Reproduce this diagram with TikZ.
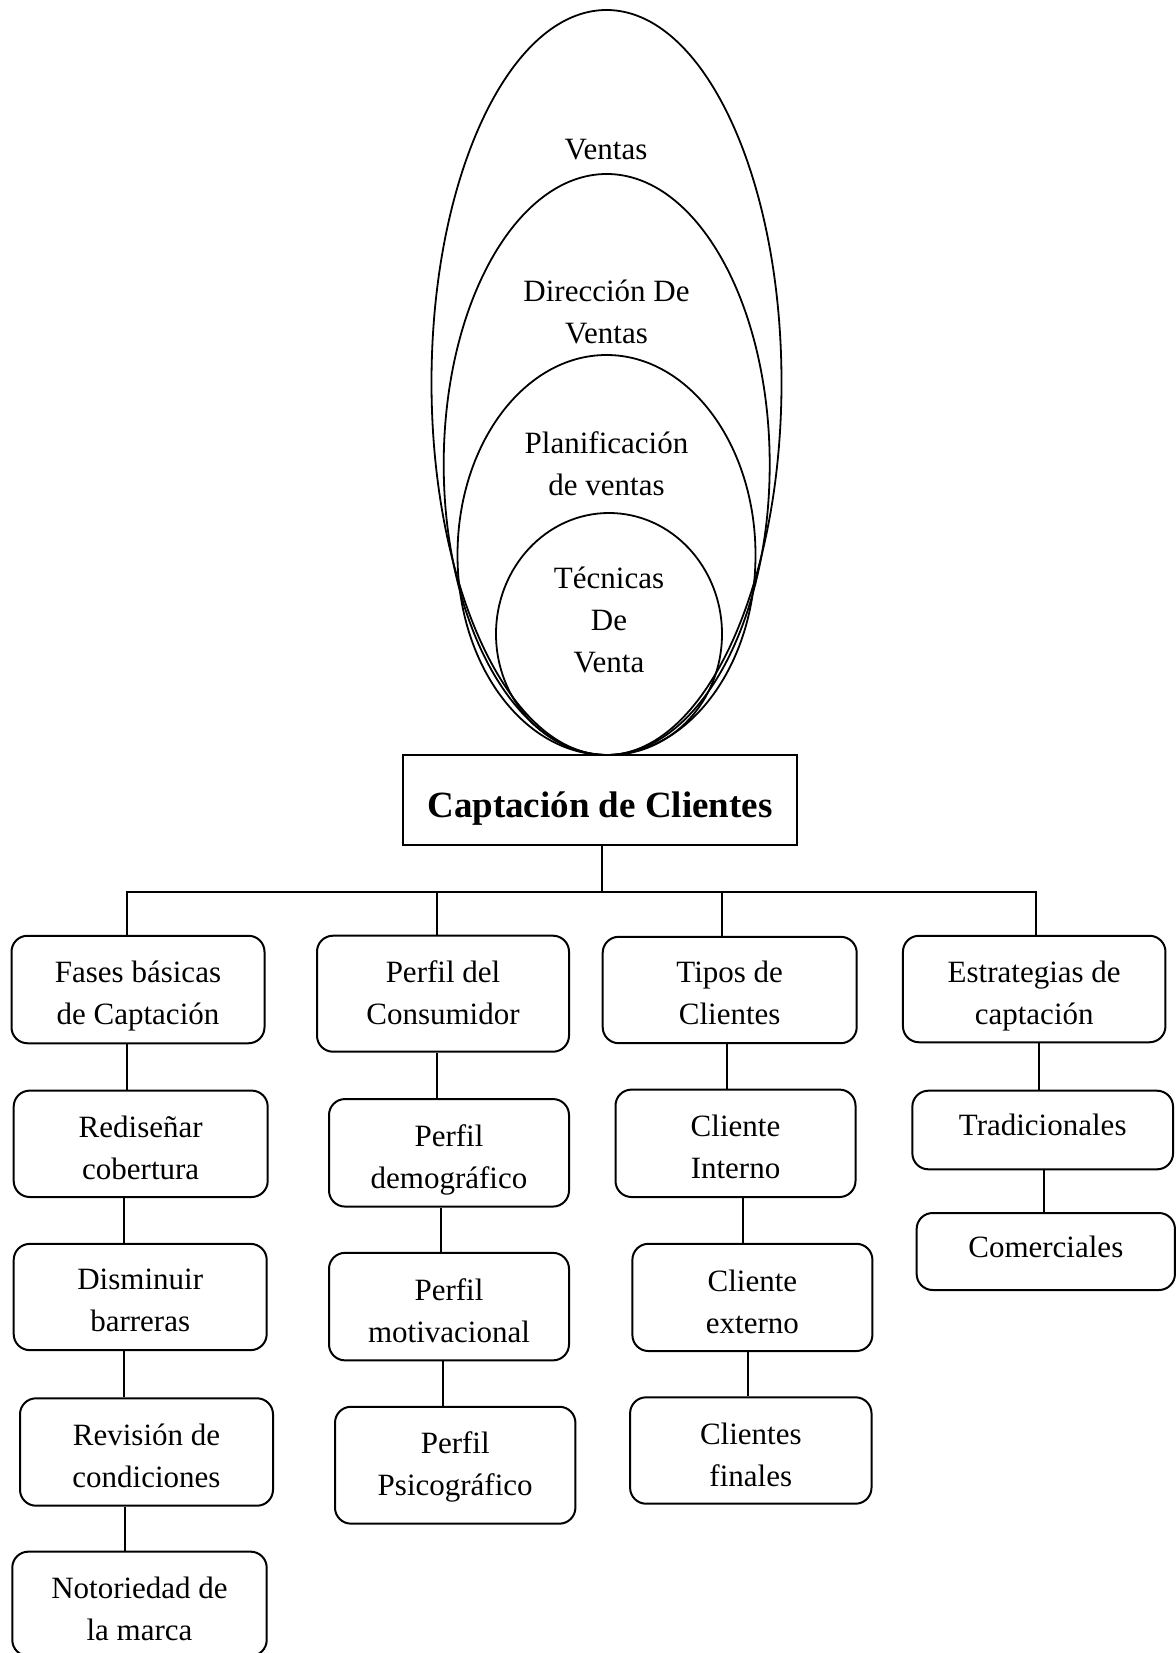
\documentclass[tikz,border=0pt]{standalone}
\usepackage{fontspec}
\setmainfont{Liberation Serif}
\usetikzlibrary{calc}
% box text: fixed first-line height so every label sits at the same
% distance below the top edge; #1 is the depth added under the last line
\newcommand\boxtext[2]{\rule{0pt}{19pt}#2\rule[-#1]{0pt}{#1}}
\begin{document}
\begin{tikzpicture}[x=0.5pt,y=-0.5pt,
  every node/.style={font=\fontsize{15.5pt}{21pt}\selectfont, align=center, inner sep=0pt},
  rbox/.style={draw, line width=1pt, rounded corners=8pt},
  mainbox/.style={draw, line width=1pt, font=\fontsize{18.5pt}{22pt}\selectfont\bfseries},
  link/.style={line width=1pt},
  ring/.style={line width=0.9pt},
  liftup/.style={text depth=5pt}
]
\useasboundingbox (0,0) rectangle (1176,1653);

% nested ovals, all touching the title box
\draw[ring] (606.5,382.5) ellipse [x radius=87.5pt, y radius=186.25pt];
\draw[ring] (606.7,464.5) ellipse [x radius=81.5pt, y radius=145.25pt];
\draw[ring] (606.5,555) ellipse [x radius=74.5pt, y radius=100pt];
\draw[ring] (609,634) ellipse [x radius=56.5pt, y radius=60.5pt];

\node (ventas) at (606,149.5) {Ventas};
\node (direccion) at (606.5,312) {Dirección De\\Ventas};
\node (planif) at (606.5,464) {Planificación\\de ventas};
\node (tecnicas) at (609,619.5) {Técnicas\\De\\Venta};

% title box
\node[mainbox, minimum width=197pt, minimum height=45pt] (capt) at (600,800) {\rule{0pt}{21.4pt}Captación de Clientes};

% first level
\node[rbox, minimum width=126.5pt, minimum height=53.75pt] (fases) at (138,989.5) {\boxtext{4.55pt}{Fases básicas\\de Captación}};
\node[rbox, minimum width=126pt, minimum height=58pt] (cons) at (443,993.7) {\boxtext{8.8pt}{Perfil del\\Consumidor}};
\node[rbox, minimum width=127pt, minimum height=53.2pt] (tipos) at (729.7,990) {\boxtext{6pt}{Tipos de\\Clientes}};
\node[rbox, minimum width=131.25pt, minimum height=53.25pt] (estr) at (1034.2,989) {\boxtext{4.05pt}{Estrategias de\\captación}};

% column 1
\node[rbox, minimum width=127pt, minimum height=53.2pt] (redis) at (140.7,1143.8) {\boxtext{4pt}{Rediseñar\\cobertura}};
\node[rbox, minimum width=126.5pt, minimum height=53.1pt] (dism) at (140.2,1297) {\boxtext{5.9pt}{Disminuir\\barreras}};
\node[rbox, minimum width=126.5pt, minimum height=53.7pt] (rev) at (146.5,1452) {\boxtext{4.5pt}{Revisión de\\condiciones}};
\node[rbox, minimum width=127.2pt, minimum height=52.15pt] (noto) at (139.5,1603.8) {\boxtext{2.95pt}{Notoriedad de\\la marca}};

% column 2
\node[rbox, minimum width=120pt, minimum height=53.75pt] (demog) at (449,1152.8) {\boxtext{4.55pt}{Perfil\\demográfico}};
\node[rbox, minimum width=120pt, minimum height=53.75pt] (motiv) at (449,1306.6) {\boxtext{4.55pt}{Perfil\\motivacional}};
\node[rbox, minimum width=120.2pt, minimum height=58.45pt] (psico) at (455.2,1465.2) {\boxtext{9.25pt}{Perfil\\Psicográfico}};

% column 3
\node[rbox, minimum width=120pt, minimum height=53.7pt] (interno) at (735.5,1143.3) {\boxtext{4.5pt}{Cliente\\Interno}};
\node[rbox, minimum width=120pt, minimum height=53.6pt] (externo) at (752.4,1297.4) {\boxtext{4.4pt}{Cliente\\externo}};
\node[rbox, minimum width=120.7pt, minimum height=53.2pt] (finales) at (750.8,1450.5) {\boxtext{4pt}{Clientes\\finales}};

% column 4
\node[rbox, liftup, minimum width=130.35pt, minimum height=39.3pt] (trad) at (1042.7,1130) {Tradicionales};
\node[rbox, liftup, minimum width=129.15pt, minimum height=38.5pt] (comer) at (1045.8,1251.5) {Comerciales};

% branching bar
\coordinate (trunk) at (602,891.5);
\coordinate (b1) at (126.5,0);
\coordinate (b2) at (437,0);
\coordinate (b3) at (722,0);
\coordinate (b4) at (1036,0);
\draw[link] (capt.south -| trunk) -- (trunk);
\draw[link] (fases.north -| b1) -- (b1 |- trunk) -- (b4 |- trunk) -- (estr.north -| b4);
\draw[link] (cons.north -| b2) -- (b2 |- trunk);
\draw[link] (tipos.north -| b3) -- (b3 |- trunk);

% vertical links inside each column
\coordinate (k11) at (126.5,0);
\coordinate (k12) at (124.3,0);
\coordinate (k13) at (124.3,0);
\coordinate (k14) at (125,0);
\draw[link] (fases.south -| k11) -- (redis.north -| k11);
\draw[link] (redis.south -| k12) -- (dism.north -| k12);
\draw[link] (dism.south -| k13) -- (rev.north -| k13);
\draw[link] (rev.south -| k14) -- (noto.north -| k14);

\coordinate (k21) at (436.5,0);
\coordinate (k22) at (440.5,0);
\coordinate (k23) at (442.6,0);
\draw[link] (cons.south -| k21) -- (demog.north -| k21);
\draw[link] (demog.south -| k22) -- (motiv.north -| k22);
\draw[link] (motiv.south -| k23) -- (psico.north -| k23);

\coordinate (k31) at (727,0);
\coordinate (k32) at (743,0);
\coordinate (k33) at (748,0);
\draw[link] (tipos.south -| k31) -- (interno.north -| k31);
\draw[link] (interno.south -| k32) -- (externo.north -| k32);
\draw[link] (externo.south -| k33) -- (finales.north -| k33);

\coordinate (k41) at (1039,0);
\coordinate (k42) at (1044,0);
\draw[link] (estr.south -| k41) -- (trad.north -| k41);
\draw[link] (trad.south -| k42) -- (comer.north -| k42);
\end{tikzpicture}
\end{document}
